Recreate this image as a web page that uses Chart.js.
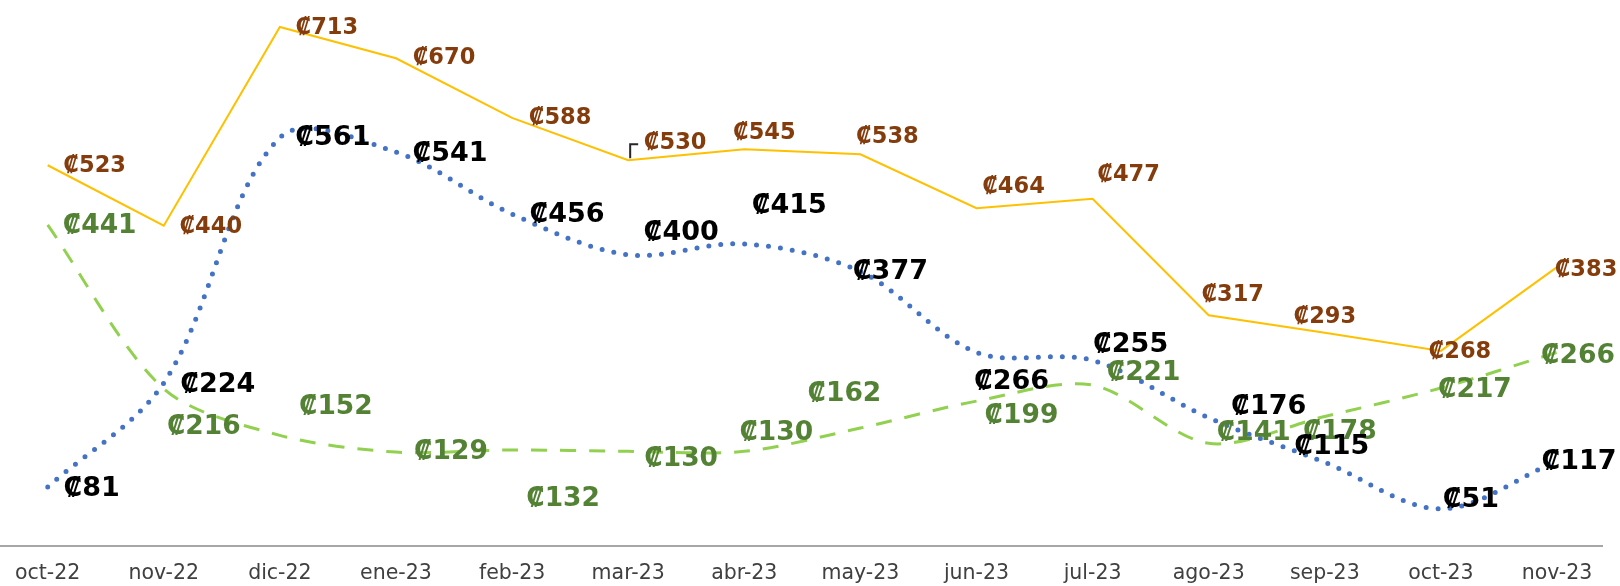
<!DOCTYPE html>
<html>
<head>
<meta charset="utf-8">
<script src="https://cdn.jsdelivr.net/npm/chart.js@4"></script>
<style>
    html, body { margin: 0; padding: 0; background: #fff; }
    #wrap { width: 1620px; height: 586px; }
</style>
</head>
<body>
<div id="wrap"><canvas id="precios"></canvas></div>
<script>
const meses = ["oct-22", "nov-22", "dic-22", "ene-23", "feb-23", "mar-23", "abr-23",
               "may-23", "jun-23", "jul-23", "ago-23", "sep-23", "oct-23", "nov-23"];

const serieAmarilla = [523, 440, 713, 670, 588, 530, 545, 538, 464, 477, 317, 293, 268, 383];
const serieAzul = [81, 224, 561, 541, 456, 400, 415, 377, 266, 255, 176, 115, 51, 117];
const serieVerde = [441, 216, 152, 129, 132, 130, 130, 162, 199, 221, 141, 178, 217, 266];

// where each value label sits, relative to its point (centre of the text)
const despAmarilla = [[47, 1], [47, 1], [47, 1], [48, 0], [48, 0], [47, -17], [20, -16],
                      [27, -17], [37, -21], [36, -24], [24, -20], [0, -16], [19, 1], [29, 3]];
const despAzul = [[44, 2], [54, 2], [53, 0], [54, 2], [55, 1], [53, -22], [45, -38],
                  [30, 0], [35, 30], [38, -15], [60, -11], [7, -15], [30, -9], [22, 1]];
const despVerde = [[52, 1], [40, 38], [56, -28], [55, 0], [51, 49], [53, 8], [32, -18],
                   [-16, -34], [45, 15], [51, -12], [45, -10], [15, 16], [34, 2], [21, 4]];

// ===== value labels + base line, drawn by hand =====
const etiquetas = {
    id: "etiquetas",
    beforeDatasetsDraw(chart) {
        const ctx = chart.ctx;
        const y0 = chart.scales.y.getPixelForValue(0);
        ctx.save();
        ctx.strokeStyle = "#a6a6a6";
        ctx.lineWidth = 2;
        ctx.beginPath();
        ctx.moveTo(0, y0);
        ctx.lineTo(1603, y0);
        ctx.stroke();
        ctx.restore();
    },
    afterDatasetsDraw(chart) {
        const ctx = chart.ctx;
        ctx.save();
        ctx.textAlign = "center";
        ctx.textBaseline = "middle";
        chart.data.datasets.forEach((ds, i) => {
            const meta = chart.getDatasetMeta(i);
            ctx.fillStyle = ds.etqColor;
            ctx.font = ds.etqFont;
            meta.data.forEach((p, j) => {
                const d = ds.desp[j];
                ctx.fillText("₡" + ds.data[j], p.x + d[0], p.y + d[1]);
            });
        });
        // leader line for the moved mar-23 label
        const p = chart.getDatasetMeta(0).data[5];
        ctx.strokeStyle = "#262626";
        ctx.lineWidth = 2;
        ctx.beginPath();
        ctx.moveTo(p.x + 2, p.y - 2);
        ctx.lineTo(p.x + 2, p.y - 16);
        ctx.lineTo(p.x + 10, p.y - 16);
        ctx.stroke();
        ctx.restore();
    }
};

new Chart(document.getElementById("precios"), {
    type: "line",
    data: {
        labels: meses,
        datasets: [
            {
                data: serieAmarilla,
                borderColor: "#ffc000",
                borderWidth: 2,
                tension: 0,
                pointRadius: 0,
                etqColor: "#843c0c",
                etqFont: "bold 22.5px 'DejaVu Sans'",
                desp: despAmarilla
            },
            {
                data: serieVerde,
                borderColor: "#92d050",
                borderWidth: 3,
                borderDash: [16, 13],
                tension: 0.3,
                pointRadius: 0,
                etqColor: "#548235",
                etqFont: "bold 26.5px 'DejaVu Sans'",
                desp: despVerde
            },
            {
                data: serieAzul,
                borderColor: "#4472c4",
                borderWidth: 5,
                borderDash: [0, 12],
                borderCapStyle: "round",
                tension: 0.33,
                pointRadius: 0,
                etqColor: "#000000",
                etqFont: "bold 27px 'DejaVu Sans'",
                desp: despAzul
            }
        ]
    },
    options: {
        responsive: true,
        maintainAspectRatio: false,
        animation: false,
        layout: { padding: { left: 43, right: 63, top: 0, bottom: 0 } },
        plugins: {
            legend: { display: false },
            tooltip: { enabled: false }
        },
        scales: {
            x: {
                offset: false,
                grid: { display: false, drawTicks: false },
                border: { display: false },
                ticks: {
                    color: "#404040",
                    font: { family: "'DejaVu Sans'", size: 20.5 },
                    padding: 15,
                    maxRotation: 0,
                    autoSkip: false
                },
                afterFit(scale) { scale.height = 40; }
            },
            y: {
                display: false,
                min: 0,
                max: 750
            }
        }
    },
    plugins: [etiquetas]
});
</script>
</body>
</html>
